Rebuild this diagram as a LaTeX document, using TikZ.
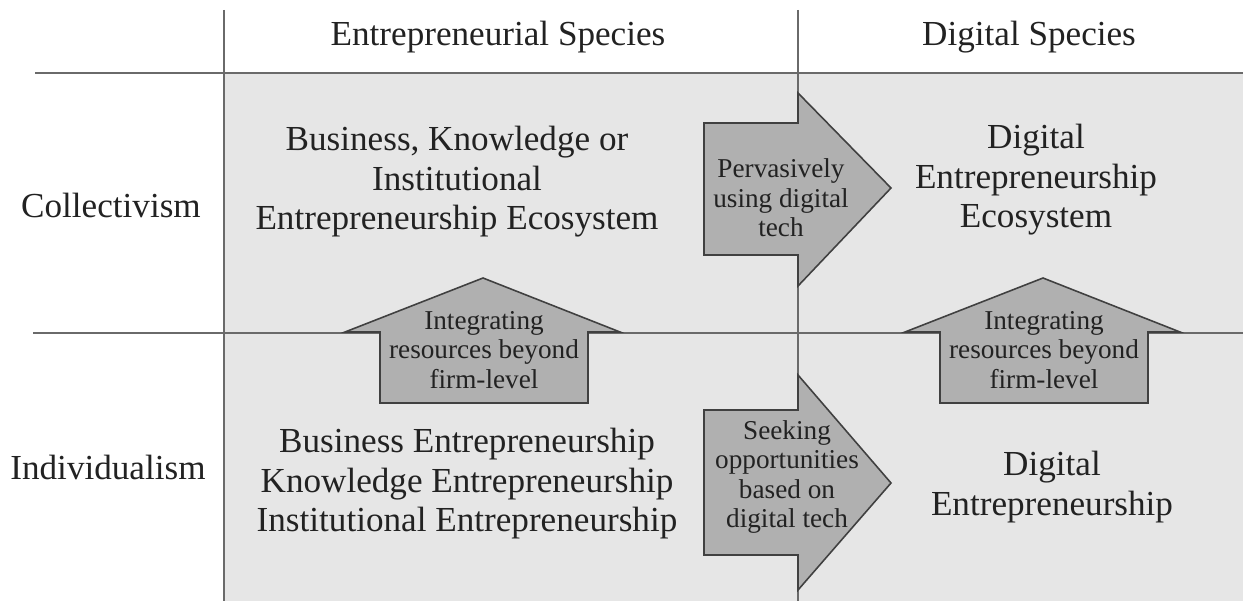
\documentclass[tikz,border=0pt]{standalone}
\usepackage{fontspec}
\setmainfont{Liberation Serif}
\usepackage{xcolor}
\definecolor{cellgray}{HTML}{E6E6E6}
\definecolor{arrowgray}{HTML}{B0B0B0}
\definecolor{rulegray}{HTML}{6A6A6A}
\definecolor{inkgray}{HTML}{222222}

\begin{document}
\begin{tikzpicture}[x=0.02cm, y=-0.02cm,
    label/.style={align=center, text=inkgray, font=\fontsize{20}{22.5}\selectfont, inner sep=0pt},
    arrowtext/.style={align=center, text=inkgray, font=\fontsize{15.5}{16.8}\selectfont, inner sep=0pt},
    arrowbox/.style={draw=black!75, fill=arrowgray, line width=0.9pt, line join=miter},
    rule/.style={draw=rulegray, line width=1.1pt}]
  \useasboundingbox (0,0) rectangle (1243,601);
  \fill[cellgray] (224,73) rectangle (1243,601);

  \draw[rule, line width=1.7pt] (35,73) -- (1243,73);
  \draw[rule] (33,333) -- (1243,333);
  \draw[rule] (224,10) -- (224,601);
  \draw[rule] (798,10) -- (798,601);

  \node[label] (headent) at (498,37) {Entrepreneurial Species};
  \node[label] (headdig) at (1029,37) {Digital Species};
  \node[label] (coll) at (111,205) {Collectivism};
  \node[label] (indiv) at (108,467) {Individualism};

  \node[label] (entcoll) at (457,182) {Business, Knowledge or\\Institutional\\Entrepreneurship Ecosystem};
  \node[label] (entind) at (467,484) {Business Entrepreneurship\\Knowledge Entrepreneurship\\Institutional Entrepreneurship};
  \node[label] (digcoll) at (1036,180) {Digital\\Entrepreneurship\\Ecosystem};
  \node[label] (digind) at (1052,487) {Digital\\Entrepreneurship};

  \draw[arrowbox] (704,123) -- (798,123) -- (798,93) -- (891,188) -- (798,286) -- (798,255) -- (704,255) -- cycle;
  \node[arrowtext] (pervasive) at (781,198) {Pervasively\\using digital\\tech};

  \draw[arrowbox] (704,410) -- (798,410) -- (798,375) -- (891,483) -- (798,590) -- (798,555) -- (704,555) -- cycle;
  \node[arrowtext] (seeking) at (787,477) {Seeking\\opportunities\\based on\\digital tech};

  \draw[arrowbox] (380,403) -- (380,332) -- (345,332) -- (483,278) -- (620,332) -- (588,332) -- (588,403) -- cycle;
  \node[arrowtext] (integent) at (484,350) {Integrating\\resources beyond\\firm-level};

  \draw[arrowbox] (940,403) -- (940,332) -- (905,332) -- (1043,278) -- (1180,332) -- (1148,332) -- (1148,403) -- cycle;
  \node[arrowtext] (integdig) at (1044,350) {Integrating\\resources beyond\\firm-level};
\end{tikzpicture}
\end{document}
